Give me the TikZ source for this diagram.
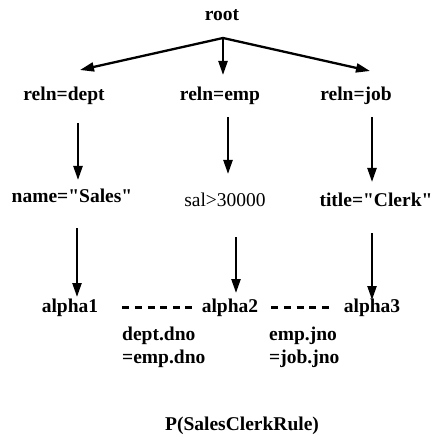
\documentclass[tikz,border=0pt]{standalone}
\usepackage{fontspec}
\setmainfont{Liberation Serif}
\usetikzlibrary{arrows.meta}
\begin{document}
\begin{tikzpicture}[x=1bp,y=1bp,
  lbl/.style={inner sep=0pt, anchor=base, font=\fontsize{19.5bp}{23bp}\selectfont\bfseries},
  lblr/.style={inner sep=0pt, anchor=base, font=\fontsize{19.5bp}{23bp}\selectfont},
  lblw/.style={inner sep=0pt, anchor=base west, font=\fontsize{19.5bp}{23bp}\selectfont\bfseries},
  arr/.style={line width=2.3bp, -{Triangle[length=14bp,width=9bp]}},
  joinline/.style={line width=2.6bp, dash pattern=on 7bp off 5.6bp}
]
\useasboundingbox (0,0) rectangle (440,-439);
% nodes
\node[lbl] (root) at (222,-21) {root};
\node[lbl] (rd) at (64,-101) {reln=dept};
\node[lbl] (re) at (220,-101) {reln=emp};
\node[lbl] (rj) at (356,-101) {reln=job};
\node[lbl] (ns) at (72,-203) {name=\textquotedbl Sales\textquotedbl};
\node[lblr] (sal) at (225,-207) {sal>30000};
\node[lbl] (tc) at (376,-207) {title=\textquotedbl Clerk\textquotedbl};
\node[lbl] (a1) at (70,-312) {alpha1};
\node[lbl] (a2) at (230,-312) {alpha2};
\node[lbl] (a3) at (372,-312) {alpha3};
\node[lblw] (c1a) at (122,-340) {dept.dno};
\node[lblw] (c1b) at (122,-363) {=emp.dno};
\node[lblw] (c2a) at (269,-340) {emp.jno};
\node[lblw] (c2b) at (269,-363) {=job.jno};
\node[lbl] (p) at (242,-430) {P(SalesClerkRule)};
% connector end points
\coordinate (apex) at (223,-38);
\coordinate (tL) at (80,-70);
\coordinate (tM) at (223,-75);
\coordinate (tR) at (370,-71);
\coordinate (v1s) at (78,-123);  \coordinate (v1e) at (78,-180);
\coordinate (v2s) at (228,-117); \coordinate (v2e) at (228,-174);
\coordinate (v3s) at (372,-117); \coordinate (v3e) at (372,-182);
\coordinate (w1s) at (77,-228);  \coordinate (w1e) at (77,-297);
\coordinate (w2s) at (236,-237); \coordinate (w2e) at (236,-293);
\coordinate (w3s) at (372,-233); \coordinate (w3e) at (372,-300);
% connectors
\draw[arr] (apex) -- (tL);
\draw[arr] (apex) -- (tM);
\draw[arr] (apex) -- (tR);
\draw[arr] (v1s) -- (v1e);
\draw[arr] (v2s) -- (v2e);
\draw[arr] (v3s) -- (v3e);
\draw[arr] (w1s) -- (w1e);
\draw[arr] (w2s) -- (w2e);
\draw[arr] (w3s) -- (w3e);
\draw[joinline, shorten <=24bp, shorten >=9bp] (a1.east) -- (a2.west);
\draw[joinline, shorten <=13bp, shorten >=11bp] (a2.east) -- (a3.west);
\end{tikzpicture}
\end{document}
